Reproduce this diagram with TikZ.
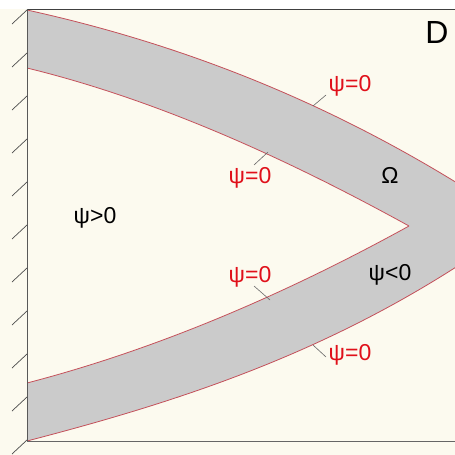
\documentclass[tikz,border=0pt]{standalone}
\usepackage{fontspec}
\setmainfont{Liberation Sans}
\definecolor{bgcream}{HTML}{FCFAEF}
\definecolor{bandgray}{HTML}{CBCBCB}
\definecolor{edgered}{HTML}{C4505A}
\definecolor{labred}{HTML}{E0101A}
\tikzset{
  edge/.style={draw=edgered, line width=0.8pt},
  frameline/.style={draw=black!75, line width=1pt},
  hatch/.style={draw=black!70, line width=0.7pt},
  tick/.style={draw=black!60, line width=0.6pt},
  zerolab/.style={text=labred, font=\fontsize{23}{25}\selectfont, inner sep=0pt},
  blacklab/.style={text=black, font=\fontsize{23}{25}\selectfont, inner sep=0pt}
}
\begin{document}
\begin{tikzpicture}[x=1pt,y=-1pt]
\useasboundingbox (0,0) rectangle (455,455);
\fill[white] (0,0) rectangle (455,455);
\fill[bgcream] (0,9) rectangle (455,455);
\begin{scope}
\clip (27,0) rectangle (455,455);
% gray band (outer region)
\fill[bandgray] (27,10) .. controls (175,42.6) and (322,98) .. (470,191)
  -- (470,258) .. controls (322,355.7) and (175,402.5) .. (27,441) -- cycle;
% inner region
\fill[bgcream] (27,68) .. controls (154,99) and (282,156) .. (409,226)
  .. controls (282,296) and (154,350) .. (27,383) -- cycle;
% red edges
\draw[edge] (27,10) .. controls (175,42.6) and (322,98) .. (470,191);
\draw[edge] (470,258) .. controls (322,355.7) and (175,402.5) .. (27,441);
\draw[edge] (27,68) .. controls (154,99) and (282,156) .. (409,226);
\draw[edge] (409,226) .. controls (282,296) and (154,350) .. (27,383);
\end{scope}
% frame
\coordinate (tl) at (27,9);
\coordinate (tr) at (455,9);
\coordinate (bl) at (27,441);
\coordinate (br) at (455,441);
\draw[frameline] (tl) -- (tr);
\draw[frameline, draw=black!60] (bl) -- (br);
\draw[frameline, draw=black!65] (tl) -- (bl);
% hatches
\foreach \y in {10,53,96,139,182,225,268,311,354,397,440}{
  \draw[hatch] (27,\y) -- (12,\y+14);
}
% labels
\node[zerolab] (l1) at (350,86) {ψ=0};
\node[zerolab] (l2) at (250,178) {ψ=0};
\node[zerolab] (l3) at (250,277) {ψ=0};
\node[zerolab] (l4) at (350,355) {ψ=0};
\coordinate (p1) at (313,106);
\coordinate (q1) at (326,95);
\coordinate (p2) at (268,152);
\coordinate (q2) at (254,165);
\coordinate (p3) at (270,300);
\coordinate (q3) at (254,286);
\coordinate (p4) at (313,345);
\coordinate (q4) at (326,357);
\draw[tick] (p1) -- (q1);
\draw[tick] (p2) -- (q2);
\draw[tick] (p3) -- (q3);
\draw[tick] (p4) -- (q4);
\node[blacklab] (om) at (390,175) {Ω};
\node[blacklab] (neg) at (390,275) {ψ<0};
\node[blacklab] (pos) at (95,218) {ψ>0};
\node[text=black, font=\fontsize{32}{34}\selectfont, inner sep=0pt] (D) at (437,32) {D};
\end{tikzpicture}
\end{document}
